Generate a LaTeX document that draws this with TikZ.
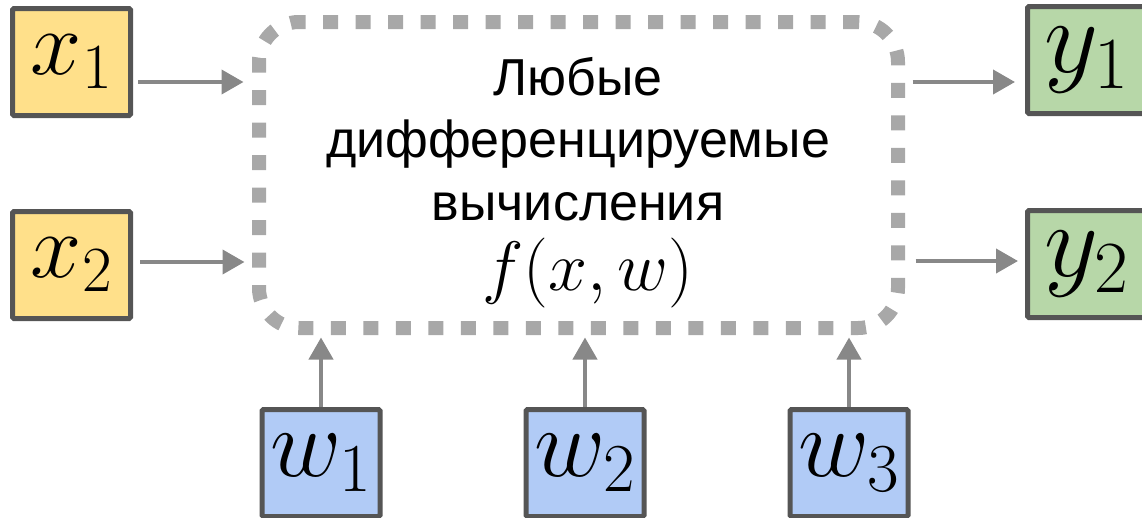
\RequirePackage{fix-cm}
\documentclass[tikz,border=0pt]{standalone}
\usepackage{fontspec}
\newfontfamily\cyrfont{Liberation Sans}
\usetikzlibrary{arrows.meta,calc}
\definecolor{yel}{HTML}{FFE08A}
\definecolor{grn}{HTML}{B7D7A8}
\definecolor{blu}{HTML}{B1CBF6}
\definecolor{bord}{HTML}{555555}
\definecolor{arrc}{HTML}{888888}
\definecolor{dashc}{HTML}{A8A8A8}
\begin{document}
\begin{tikzpicture}[x=1pt,y=-1pt,
  var/.style={draw=bord,line width=5pt,rounded corners=1.5pt,minimum width=118pt,minimum height=107pt,inner sep=0pt},
  xin/.style={var,fill=yel,font=\fontsize{92}{92}\selectfont},
  yout/.style={var,fill=grn,font=\fontsize{105}{105}\selectfont},
  wpar/.style={var,fill=blu,font=\fontsize{98}{98}\selectfont},
  arr/.style={draw=arrc,line width=4pt,-{Triangle[length=22pt,width=24pt]}},
  comp/.style={draw=dashc,line width=14pt,dash pattern=on 15pt off 17.5pt,rounded corners=40pt,minimum width=639pt,minimum height=306pt,inner sep=0pt}
]
\useasboundingbox (0,0) rectangle (1142,517);

\node[comp] (f) at (578.5,175) {};
\node[font=\cyrfont\fontsize{52}{62.5}\selectfont,align=center,anchor=north,inner sep=0pt] (t) at (578,57)
  {Любые\\дифференцируемые\\вычисления};
\node[font=\fontsize{70}{70}\selectfont,anchor=base,inner sep=0pt] (fx) at (588,290) {$f(x,w)$};

\node[xin] (x1) at (71.5,62) {$x_1$};
\node[xin] (x2) at (71.5,265) {$x_2$};
\node[yout] (y1) at (1086.5,60) {$y_1$};
\node[yout] (y2) at (1086.5,264) {$y_2$};
\node[wpar] (w1) at (321,463) {$w_1$};
\node[wpar] (w2) at (585,463) {$w_2$};
\node[wpar] (w3) at (849,463) {$w_3$};

\coordinate (a1) at ($(x1.east)+(5,20)$);
\coordinate (a2) at ($(x2.east)+(7,-3)$);
\draw[arr] (a1) -- ($(f.west |- a1)+(-8.5,0)$);
\draw[arr] (a2) -- ($(f.west |- a2)+(-7.5,0)$);

\coordinate (b1) at ($(f.east)+(7.5,0)$);
\draw[arr] (b1 |- y1.west) ++(0,22) coordinate (b1s) -- ($(y1.west |- b1s)+(-10,0)$);
\coordinate (b2) at ($(f.east)+(10.5,0)$);
\draw[arr] (b2 |- y2.west) ++(0,-3) coordinate (b2s) -- ($(y2.west |- b2s)+(-7,0)$);

\draw[arr] (w1.north) -- ($(w1.north |- f.south)+(0,2.5)$);
\draw[arr] (w2.north) -- ($(w2.north |- f.south)+(0,2.5)$);
\draw[arr] (w3.north) -- ($(w3.north |- f.south)+(0,2.5)$);
\end{tikzpicture}
\end{document}
